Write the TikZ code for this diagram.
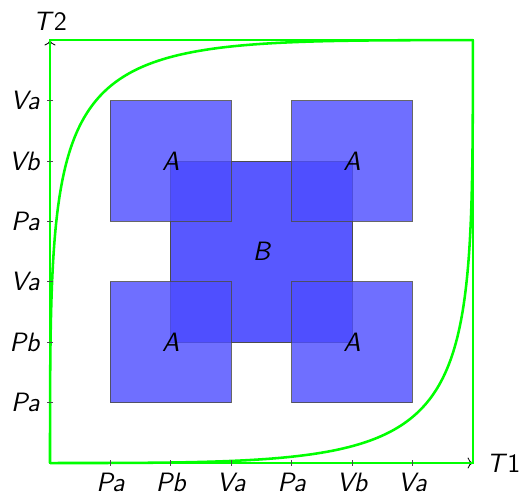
\documentclass[tikz,border=0pt]{standalone}
\usepackage{tikz}
\usetikzlibrary{arrows.meta}

\begin{document}
\begin{tikzpicture}[
  lbl/.style={font=\fontsize{12.5}{15}\selectfont\sffamily\slshape,text=black},
  bsq/.style={draw=black!70,fill={rgb,255:red,88;green,88;blue,255},
              minimum size=3cm,inner sep=0pt,lbl},
  asq/.style={draw=black!70,draw opacity=0.85,fill={rgb,255:red,78;green,78;blue,255},
              fill opacity=0.81,text opacity=1,minimum size=2cm,inner sep=0pt,lbl},
  frame/.style={green,line width=1.2pt},
  axis/.style={->,black,line width=0.4pt},
  tickmark/.style={black!70,line width=0.4pt}
]
\useasboundingbox (-0.828,-0.53) rectangle (7.83,7.665);
% Corners of the plot
\coordinate (O) at (0,0);
\coordinate (X) at (7,0);
\coordinate (Y) at (0,7);
\coordinate (XY) at (7,7);
% Axes
\draw[axis] (O) -- (X) node[right=3pt,lbl] (T1) {T\textup{1}};
\draw[axis] (O) -- (Y) node[above=1pt,lbl] (T2) {T\textup{2}};
% Squares
\node[bsq] (B) at (3.5,3.5) {B};
\node[asq] (A1) at (2,5) {A};
\node[asq] (A2) at (5,5) {A};
\node[asq] (A3) at (2,2) {A};
\node[asq] (A4) at (5,2) {A};
% Green frame and curves
\draw[frame] (O) rectangle (XY);
\draw[frame] (O) .. controls (Y) and (Y) .. (XY);
\draw[frame] (O) .. controls (X) and (X) .. (XY);
% Ticks and labels
\foreach \x/\t in {1/Pa,2/Pb,3/Va,4/Pa,5/Vb,6/Va}
  \draw[tickmark] (\x,0.05) -- (\x,-0.05) node[below,lbl] (xl\x) {\t};
\foreach \y/\t in {1/Pa,2/Pb,3/Va,4/Pa,5/Vb,6/Va}
  \draw[tickmark] (0.05,\y) -- (-0.05,\y) node[left,lbl] (yl\y) {\t};
\end{tikzpicture}
\end{document}
